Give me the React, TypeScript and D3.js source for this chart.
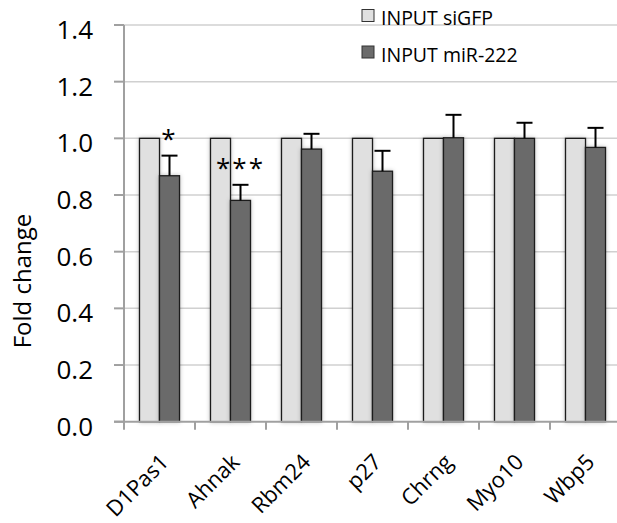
import * as d3 from "d3";
import { useEffect, useRef } from "react";

const genes = ["D1Pas1", "Ahnak", "Rbm24", "p27", "Chrng", "Myo10", "Wbp5"];
const siGFP = [1, 1, 1, 1, 1, 1, 1];
const miR222 = [0.868, 0.781, 0.962, 0.884, 1.002, 1.0, 0.968];
const miR222Err = [0.071, 0.055, 0.054, 0.072, 0.081, 0.055, 0.069];
const stars = ["*", "***", "", "", "", "", ""];
const yTicks = [0, 0.2, 0.4, 0.6, 0.8, 1.0, 1.2, 1.4];
const seriesNames = ["INPUT siGFP", "INPUT miR-222"];
const seriesColors = ["#e0e0e0", "#6b6b6b"];

const FONT = "'Open Sans', sans-serif";

const App = () => {
  const ref = useRef<SVGSVGElement>(null);

  useEffect(() => {
    const svg = d3.select(ref.current);
    svg.selectAll("*").remove();

    const left = 124, right = 621, top = 25, bottom = 421.7;

    const x = d3.scaleBand().domain(genes).range([left, right]).padding(0);
    const y = d3.scaleLinear().domain([0, 1.4]).range([bottom, top]);
    const barW = 20;

    const defs = svg.append("defs");
    defs.append("filter")
      .attr("id", "shadow")
      .attr("x", "-30%").attr("y", "-10%").attr("width", "160%").attr("height", "120%")
      .append("feDropShadow")
      .attr("dx", 0).attr("dy", 0).attr("stdDeviation", 2)
      .attr("flood-color", "#000").attr("flood-opacity", 0.25);

    // gridlines
    svg.append("g")
      .selectAll("line")
      .data(yTicks.filter((d) => d > 0))
      .enter()
      .append("line")
      .attr("x1", left).attr("x2", right)
      .attr("y1", (d) => y(d)).attr("y2", (d) => y(d))
      .attr("stroke", "#d0d0d0").attr("stroke-width", 1.5);

    // y axis
    const yAxis = svg.append("g");
    yAxis.append("line")
      .attr("x1", left).attr("x2", left).attr("y1", top).attr("y2", bottom)
      .attr("stroke", "#a0a0a0").attr("stroke-width", 2);
    yAxis.selectAll("line.tick")
      .data(yTicks)
      .enter()
      .append("line")
      .attr("class", "tick")
      .attr("x1", left - 10).attr("x2", left)
      .attr("y1", (d) => y(d)).attr("y2", (d) => y(d))
      .attr("stroke", "#a0a0a0").attr("stroke-width", 2);
    yAxis.selectAll("text")
      .data(yTicks)
      .enter()
      .append("text")
      .attr("x", 93)
      .attr("y", (d) => y(d) + 4)
      .attr("text-anchor", "end")
      .attr("dominant-baseline", "central")
      .style("font-family", FONT)
      .style("font-size", "26px")
      .attr("fill", "#000")
      .text((d) => d.toFixed(1));

    svg.append("text")
      .attr("transform", "translate(31,281) rotate(-90)")
      .attr("text-anchor", "middle")
      .style("font-family", FONT)
      .style("font-size", "24px")
      .text("Fold change");

    // bars
    const groups = svg.append("g")
      .selectAll("g")
      .data(genes)
      .enter()
      .append("g");

    groups.append("rect")
      .attr("x", (d) => x(d)! + x.bandwidth() / 2 - barW)
      .attr("y", (d, i) => y(siGFP[i]))
      .attr("width", barW)
      .attr("height", (d, i) => bottom - y(siGFP[i]))
      .attr("fill", seriesColors[0])
      .attr("stroke", "#1a1a1a").attr("stroke-width", 1.3)
      .attr("filter", "url(#shadow)");

    groups.append("rect")
      .attr("x", (d) => x(d)! + x.bandwidth() / 2)
      .attr("y", (d, i) => y(miR222[i]))
      .attr("width", barW)
      .attr("height", (d, i) => bottom - y(miR222[i]))
      .attr("fill", seriesColors[1])
      .attr("stroke", "#1a1a1a").attr("stroke-width", 1.3)
      .attr("filter", "url(#shadow)");

    // error bars
    groups.append("line")
      .attr("x1", (d) => x(d)! + x.bandwidth() / 2 + barW / 2)
      .attr("x2", (d) => x(d)! + x.bandwidth() / 2 + barW / 2)
      .attr("y1", (d, i) => y(miR222[i]))
      .attr("y2", (d, i) => y(miR222[i] + miR222Err[i]))
      .attr("stroke", "#000").attr("stroke-width", 2);
    groups.append("line")
      .attr("x1", (d) => x(d)! + x.bandwidth() / 2 + barW / 2 - 8)
      .attr("x2", (d) => x(d)! + x.bandwidth() / 2 + barW / 2 + 8)
      .attr("y1", (d, i) => y(miR222[i] + miR222Err[i]))
      .attr("y2", (d, i) => y(miR222[i] + miR222Err[i]))
      .attr("stroke", "#000").attr("stroke-width", 2);

    // significance stars
    groups.append("text")
      .attr("x", (d) => x(d)! + x.bandwidth() / 2 + barW / 2)
      .attr("y", (d, i) => y(miR222[i] + miR222Err[i]) - 8)
      .attr("text-anchor", "middle")
      .style("font-family", FONT)
      .style("font-size", "26px")
      .style("letter-spacing", "2px")
      .text((d, i) => stars[i]);

    // x axis
    const xAxis = svg.append("g");
    xAxis.append("line")
      .attr("x1", left - 10).attr("x2", right).attr("y1", bottom).attr("y2", bottom)
      .attr("stroke", "#a0a0a0").attr("stroke-width", 2);
    xAxis.selectAll("line.tick")
      .data(genes)
      .enter()
      .append("line")
      .attr("class", "tick")
      .attr("x1", (d) => x(d)!).attr("x2", (d) => x(d)!)
      .attr("y1", bottom).attr("y2", bottom + 8)
      .attr("stroke", "#a0a0a0").attr("stroke-width", 2);
    xAxis.selectAll("text")
      .data(genes)
      .enter()
      .append("text")
      .attr("transform", (d) => `translate(${x(d)! + x.bandwidth() / 2 + 5},458) rotate(-45)`)
      .attr("dy", "0.35em")
      .attr("text-anchor", "end")
      .style("font-family", FONT)
      .style("font-size", "22px")
      .text((d) => d);

    // legend
    const legend = svg.append("g");
    seriesNames.forEach((name, i) => {
      legend.append("rect")
        .attr("x", 362).attr("y", 9.5 + i * 36.5)
        .attr("width", 12).attr("height", 12)
        .attr("fill", seriesColors[i])
        .attr("stroke", "#333").attr("stroke-width", 1);
      legend.append("text")
        .attr("x", 381).attr("y", 25 + i * 36.5)
        .style("font-family", FONT)
        .style("font-size", "19.5px")
        .text(name);
    });
  }, []);

  return <svg ref={ref} width={617} height={523} style={{ position: "absolute", left: 0, top: 0 }} />;
};

export default App;
